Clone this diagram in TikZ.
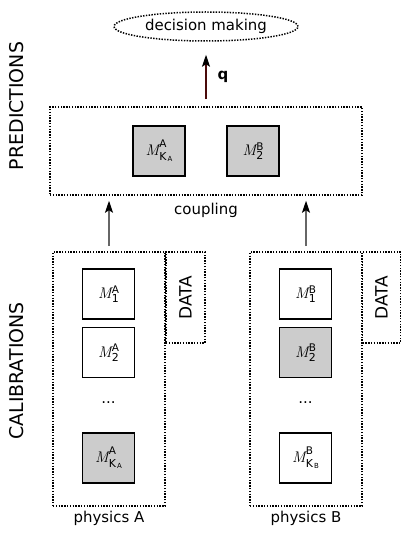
\documentclass[tikz,border=0pt]{standalone}
\usepackage{fontspec}
\setmainfont{DejaVu Sans}
\setsansfont{DejaVu Sans}
\newfontfamily\lmfont{Latin Modern Roman}
\usetikzlibrary{shapes.geometric,arrows.meta}
\definecolor{boxgray}{HTML}{CCCCCC}
\definecolor{qred}{HTML}{4A0A0A}
\definecolor{arrgray}{HTML}{666666}
% M with superscript #1 and subscript #2
\newcommand{\mlab}[2]{{\fontsize{15.5}{18}\selectfont\lmfont\itshape M}\kern0.3bp\rlap{\raisebox{5.5bp}{\fontsize{10.5}{12}\selectfont #1}}\raisebox{-4bp}{\fontsize{11}{13}\selectfont #2}}
\newcommand{\mlabK}[2]{{\fontsize{15.5}{18}\selectfont\lmfont\itshape M}\kern0.3bp\rlap{\raisebox{7.5bp}{\fontsize{10.5}{12}\selectfont #1}}\raisebox{-5.5bp}{\fontsize{11}{13}\selectfont K\kern1bp\raisebox{-1bp}{\fontsize{7}{8}\selectfont #2}}}
\begin{document}
\begin{tikzpicture}[x=1bp,y=-1bp,
  dotbox/.style={draw, line width=1.5bp, dash pattern=on 1.4bp off 1.4bp, rectangle, inner sep=0pt},
  mbox/.style={draw, line width=1.1bp, rectangle, minimum width=52bp, minimum height=50bp, inner sep=0pt},
  graybox/.style={mbox, fill=boxgray},
  lbl/.style={font=\fontsize{15}{18}\selectfont, inner sep=0pt},
  biglbl/.style={font=\fontsize{19}{22}\selectfont, inner sep=0pt, rotate=90},
  tip/.style={-{Stealth[length=12bp,width=8bp,inset=2.5bp,black]}},
  conn/.style={line width=1.3bp, arrgray, tip}
]
\useasboundingbox (0,0) rectangle (401,533);

\node[ellipse, draw, line width=1.5bp, dash pattern=on 1.4bp off 1.4bp, minimum width=184bp, minimum height=29bp, inner sep=0pt, lbl] (dm) at (206,26.5) {decision making};

\node[dotbox, minimum width=312bp, minimum height=88bp] (pred) at (206,151) {};
\node[graybox] (pA) at (159,151) {\mlabK{A}{A}};
\node[graybox] (pB) at (253,151) {\mlab{B}{2}};
\node[lbl] (coup) at (206,210) {coupling};

\draw[line width=1.3bp, qred, tip, shorten <=7bp, shorten >=13bp] (pred.north) -- (dm.south);
\node[lbl, font=\fontsize{15}{18}\selectfont\bfseries] (q) at (223,77) {q};

\node[dotbox, minimum width=112bp, minimum height=254bp] (calA) at (109,379) {};
\node[dotbox, minimum width=39bp, minimum height=91bp] (dataA) at (185.5,297.5) {};
\node[rotate=90, font=\fontsize{17}{20}\selectfont, inner sep=0pt] (dataAt) at (dataA.center) {DATA};
\node[mbox] (a1) at (108.5,294) {\mlab{A}{1}};
\node[mbox] (a2) at (108.5,352.5) {\mlab{A}{2}};
\node[lbl] (adots) at (108.5,403) {...};
\node[graybox] (aK) at (108.5,458) {\mlabK{A}{A}};
\node[lbl] (physA) at (109,518) {physics A};

\node[dotbox, minimum width=112bp, minimum height=254bp] (calB) at (306,379) {};
\node[dotbox, minimum width=38bp, minimum height=91bp] (dataB) at (381.5,297.5) {};
\node[rotate=90, font=\fontsize{17}{20}\selectfont, inner sep=0pt] (dataBt) at (dataB.center) {DATA};
\node[mbox] (b1) at (305.5,294) {\mlab{B}{1}};
\node[graybox] (b2) at (305.5,352.5) {\mlab{B}{2}};
\node[lbl] (bdots) at (305.5,403) {...};
\node[mbox] (bK) at (305.5,458) {\mlabK{B}{B}};
\node[lbl] (physB) at (306,518) {physics B};

\draw[conn, shorten <=5bp, shorten >=5bp] (calA.north) -- (calA.north |- pred.south);
\draw[conn, shorten <=5bp, shorten >=5bp] (calB.north) -- (calB.north |- pred.south);

\node[biglbl] (predl) at (17,106) {PREDICTIONS};
\node[biglbl] (calibl) at (17,371) {CALIBRATIONS};
\end{tikzpicture}
\end{document}
